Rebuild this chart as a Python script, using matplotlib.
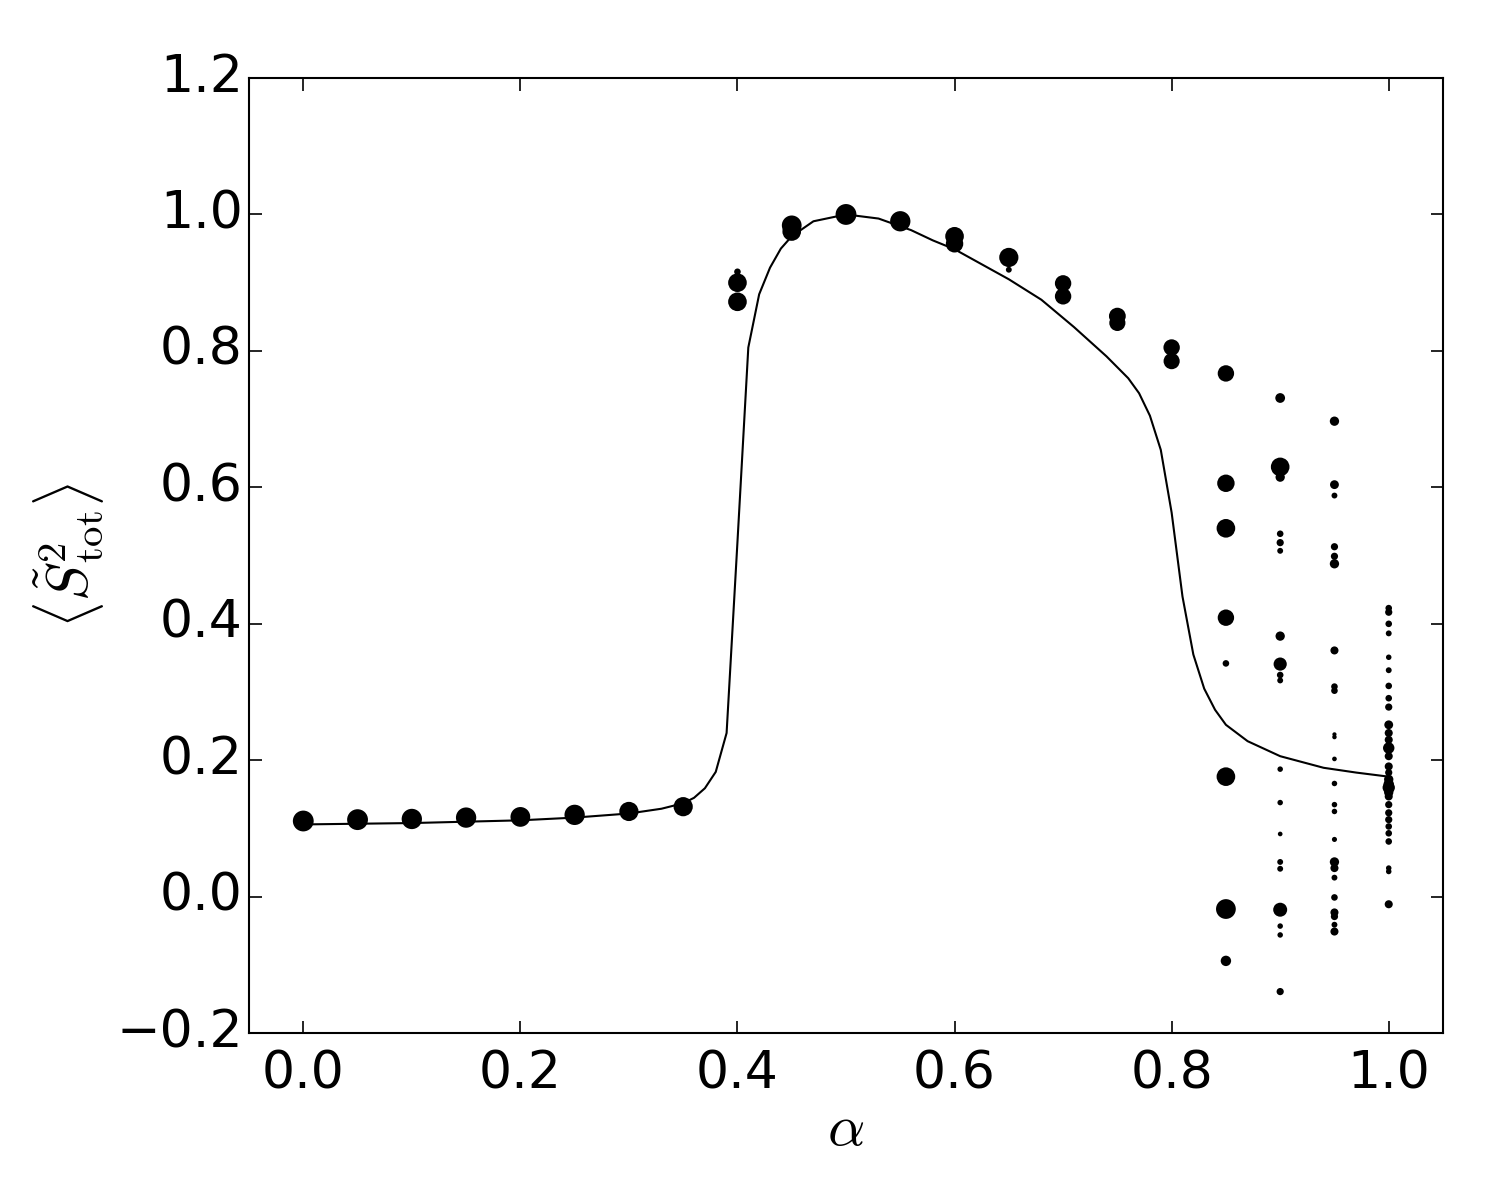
import numpy as np
import matplotlib
matplotlib.use("Agg")
import matplotlib.pyplot as plt

plt.style.use('classic')
plt.rcParams['mathtext.fontset'] = 'cm'
plt.rcParams['font.family'] = 'DejaVu Sans'

# mean-field curve
curve_a = [0.0, 0.05, 0.1, 0.15, 0.2, 0.25, 0.3, 0.33, 0.35, 0.36, 0.37, 0.38,
           0.39, 0.40, 0.41, 0.42, 0.43, 0.44, 0.45, 0.47, 0.5, 0.53, 0.56,
           0.58, 0.6, 0.65, 0.68, 0.71, 0.74, 0.76, 0.77, 0.78, 0.79, 0.80,
           0.81, 0.82, 0.83, 0.84, 0.85, 0.87, 0.9, 0.94, 0.97, 1.0]
curve_s = [0.106, 0.107, 0.108, 0.110, 0.112, 0.116, 0.122, 0.129, 0.137,
           0.145, 0.159, 0.183, 0.240, 0.52, 0.805, 0.883, 0.922, 0.950,
           0.968, 0.990, 1.0, 0.994, 0.977, 0.962, 0.949, 0.905, 0.875,
           0.835, 0.792, 0.760, 0.738, 0.705, 0.655, 0.563, 0.44, 0.355,
           0.305, 0.274, 0.252, 0.228, 0.206, 0.189, 0.182, 0.176]

# simulation points (alpha, <S^2>, relative weight)
pts_a = ([0.0, 0.05, 0.1, 0.15, 0.2, 0.25, 0.3, 0.35]
         + [0.4] * 3 + [0.45] * 2 + [0.5, 0.55] + [0.6] * 2 + [0.65] * 2
         + [0.7] * 2 + [0.75] * 2 + [0.8] * 2 + [0.85] * 8 + [0.9] * 19
         + [0.95] * 24 + [1.0] * 30)
pts_s = [0.111, 0.113, 0.114, 0.116, 0.117, 0.120, 0.125, 0.132,
         0.900, 0.872, 0.916,
         0.984, 0.975,
         1.000, 0.990,
         0.968, 0.957,
         0.937, 0.919,
         0.899, 0.880,
         0.851, 0.841,
         0.805, 0.785,
         # 0.85
         0.767, 0.606, 0.540, 0.409, 0.342, 0.176, -0.018, -0.094,
         # 0.9
         0.731, 0.630, 0.615, 0.532, 0.519, 0.507, 0.382, 0.341, 0.325,
         0.317, 0.187, 0.138, 0.092, 0.051, 0.041, -0.019, -0.043, -0.056,
         -0.139,
         # 0.95
         0.697, 0.604, 0.588, 0.513, 0.499, 0.488, 0.361, 0.308, 0.302,
         0.234, 0.202, 0.166, 0.135, 0.125, 0.084, 0.051, 0.042, 0.028,
         -0.001, -0.023, -0.029, -0.041, -0.051, 0.238,
         # 1.0
         0.423, 0.417, 0.400, 0.386, 0.351, 0.332, 0.309, 0.291, 0.278,
         0.252, 0.240, 0.230, 0.218, 0.206, 0.191, 0.182, 0.172, 0.160,
         0.153, 0.147, 0.135, 0.123, 0.113, 0.103, 0.093, 0.081, 0.042,
         0.037, -0.011, 0.165]
pts_w = [1.0, 1.0, 0.95, 0.95, 0.9, 0.95, 0.85, 0.85,
         0.8, 0.8, 0.1,
         0.9, 0.8,
         1.0, 0.95,
         0.8, 0.7,
         0.85, 0.08,
         0.62, 0.62,
         0.65, 0.6,
         0.62, 0.6,
         # 0.85
         0.62, 0.7, 0.8, 0.62, 0.1, 0.8, 0.9, 0.25,
         # 0.9
         0.22, 0.8, 0.2, 0.1, 0.12, 0.08, 0.2, 0.4, 0.1,
         0.08, 0.07, 0.07, 0.05, 0.08, 0.08, 0.45, 0.07, 0.07,
         0.12,
         # 0.95
         0.2, 0.18, 0.08, 0.12, 0.12, 0.2, 0.15, 0.1, 0.1,
         0.045, 0.05, 0.07, 0.07, 0.07, 0.06, 0.2, 0.15, 0.08,
         0.1, 0.15, 0.12, 0.08, 0.15, 0.04,
         # 1.0
         0.1, 0.12, 0.1, 0.08, 0.07, 0.08, 0.1, 0.1, 0.12,
         0.18, 0.15, 0.15, 0.3, 0.15, 0.15, 0.12, 0.2, 0.35,
         0.2, 0.15, 0.12, 0.12, 0.12, 0.1, 0.1, 0.1, 0.07,
         0.07, 0.15, 0.25]

fig = plt.figure(figsize=(10, 8), dpi=150, facecolor='white')
ax = fig.add_axes([0.166, 0.139, 0.796, 0.796])

ax.plot(curve_a, curve_s, color='black', lw=1.0)
ax.scatter(pts_a, pts_s, s=np.array(pts_w) * 100, c='black',
           edgecolors='none', zorder=3)

ax.set_xlim(-0.05, 1.05)
ax.set_ylim(-0.2, 1.2)
ax.set_xticks([0.0, 0.2, 0.4, 0.6, 0.8, 1.0])
ax.set_yticks([-0.2, 0.0, 0.2, 0.4, 0.6, 0.8, 1.0, 1.2])
ax.tick_params(labelsize=25, length=6, width=0.8)
ax.tick_params(axis='x', pad=8)
ax.tick_params(axis='y', pad=3)
ax.set_xlabel(r'$\alpha$', fontsize=28, labelpad=0)
ax.set_ylabel(r'$\left\langle\tilde{S}^2_{\rm tot}\right\rangle$',
              fontsize=28, labelpad=5)

fig.savefig('out.png', dpi=150, facecolor='white')
